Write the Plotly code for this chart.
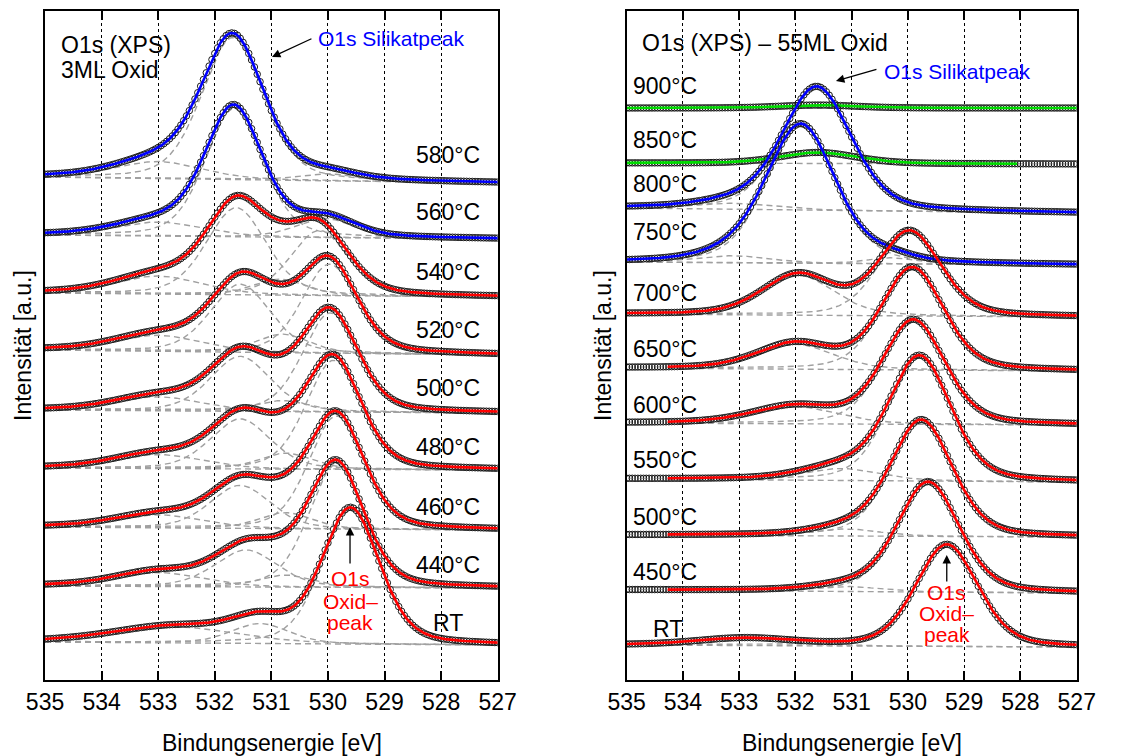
import numpy as np
import plotly.graph_objects as go

FONT = "Liberation Sans, Arial, Helvetica, sans-serif"
ETA = 0.3  # Lorentzian fraction of the pseudo-Voigt line shape

COLORS = {"red": "#ff0000", "blue": "#0000ff", "green": "#00dc00"}

# ---------------- 3ML oxide (left panel) ----------------
temps_3ml = ["580°C", "560°C", "540°C", "520°C", "500°C", "480°C", "460°C", "440°C", "RT"]
fitcol_3ml = ["blue", "blue", "red", "red", "red", "red", "red", "red", "red"]
bg_hi_3ml = [503, 445, 387, 330, 270, 212, 153, 94, 38]   # background at 535 eV
bg_lo_3ml = [497, 441, 383, 325, 267, 210, 150, 92, 35]   # background at 527 eV
pos_3ml = [
    [533.0, 531.68, 530.0],
    [533.0, 531.66, 530.05],
    [533.0, 531.62, 530.85, 530.15],
    [533.0, 531.55, 530.8, 529.97],
    [533.0, 531.55, 530.8, 529.96],
    [533.0, 531.55, 530.75, 529.9],
    [533.0, 531.55, 530.75, 529.85],
    [533.0, 531.45, 530.75, 529.85],
    [532.7, 531.2, 529.6],
]
amp_3ml = [
    [17, 142, 7],
    [14, 128, 19],
    [18, 87, 16, 65],
    [16, 68, 18.5, 89],
    [14, 55, 11, 99],
    [14, 50, 16, 109],
    [13, 43, 16, 113],
    [14, 37, 12, 123],
    [16, 20, 135],
]
fwhm_3ml = [
    [1.8, 1.3, 1.2],
    [1.8, 1.2, 1.2],
    [1.8, 1.25, 1.1, 1.2],
    [1.8, 1.25, 1.1, 1.15],
    [1.8, 1.25, 1.1, 1.15],
    [1.8, 1.25, 1.1, 1.15],
    [1.8, 1.25, 1.1, 1.15],
    [1.8, 1.3, 1.1, 1.15],
    [2.6, 1.2, 1.2],
]
fit_from_3ml = [535.0] * 9
fit_to_3ml = [527.0] * 9

# ---------------- 55ML oxide (right panel) ----------------
temps_55ml = ["900°C", "850°C", "800°C", "750°C", "700°C", "650°C", "600°C",
              "550°C", "500°C", "450°C", "RT"]
fitcol_55ml = ["green", "green", "blue", "blue", "red", "red", "red",
               "red", "red", "red", "red"]
bg_hi_55ml = [572, 517, 472, 418, 366, 312, 257, 201, 145, 90, 35]
bg_lo_55ml = [572, 516, 467, 415, 363, 309, 255, 198, 143, 87, 33]
pos_55ml = [
    [531.6],
    [531.6],
    [533.1, 531.62],
    [533.1, 531.9, 530.3],
    [531.95, 529.97],
    [532.0, 529.92],
    [532.0, 529.9],
    [531.2, 529.79],
    [531.1, 529.76],
    [531.1, 529.64],
    [532.9, 529.31],
]
amp_55ml = [
    [3],
    [11],
    [6, 123],
    [7, 138, 6],
    [40, 84],
    [25, 102],
    [17, 104],
    [12, 124],
    [7, 116],
    [5, 110],
    [7, 102],
]
fwhm_55ml = [
    [1.6],
    [1.6],
    [1.6, 1.45],
    [1.5, 1.45, 1.0],
    [1.5, 1.3],
    [1.6, 1.3],
    [1.8, 1.3],
    [1.6, 1.3],
    [1.4, 1.3],
    [1.4, 1.3],
    [2.0, 1.3],
]
fit_from_55ml = [535.0, 535.0, 535.0, 535.0, 535.0, 534.27, 534.27, 534.27, 534.27, 534.27, 535.0]
fit_to_55ml = [527.0, 528.06, 527.0, 527.0, 527.0, 527.0, 527.0, 527.0, 527.0, 527.0, 527.0]

ticks_ev = [535, 534, 533, 532, 531, 530, 529, 528, 527]
E_HI, E_LO = 535.0, 527.0
STEP = 0.05  # measurement step of the spectra [eV]


def pseudo_voigt(e, c, h, w):
    r = 4.0 * ((e - c) / w) ** 2
    return h * ((1 - ETA) * np.exp(-np.log(2) * r) + ETA / (1 + r))


def background(e, hi, lo):
    return lo + (hi - lo) * (e - E_LO) / (E_HI - E_LO)


fig = go.Figure()


def add_panel(xa, ya, col, bg_hi, bg_lo, pos, amp, fwhm, f_from, f_to):
    e_meas = np.arange(E_HI, E_LO - 1e-9, -STEP)
    for i in range(len(bg_hi)):
        e_fit = np.linspace(f_from[i], f_to[i], 400)
        bg_fit = background(e_fit, bg_hi[i], bg_lo[i])
        dash = dict(color="rgb(160,160,160)", width=1.4, dash="6px,4px")
        fig.add_trace(go.Scatter(x=e_fit, y=bg_fit, mode="lines", line=dash,
                                 xaxis=xa, yaxis=ya, hoverinfo="skip"))
        total_fit = bg_fit.copy()
        for c, h, w in zip(pos[i], amp[i], fwhm[i]):
            comp = pseudo_voigt(e_fit, c, h, w)
            total_fit += comp
            fig.add_trace(go.Scatter(x=e_fit, y=bg_fit + comp, mode="lines", line=dash,
                                     xaxis=xa, yaxis=ya, hoverinfo="skip"))
        meas = background(e_meas, bg_hi[i], bg_lo[i])
        for c, h, w in zip(pos[i], amp[i], fwhm[i]):
            meas = meas + pseudo_voigt(e_meas, c, h, w)
        fig.add_trace(go.Scatter(
            x=e_meas, y=meas, mode="markers", xaxis=xa, yaxis=ya,
            marker=dict(symbol="circle-open", size=6.5, color="#1a1a1a",
                        line=dict(width=1.0, color="#1a1a1a")),
            hoverinfo="skip"))
        fig.add_trace(go.Scatter(x=e_fit, y=total_fit, mode="lines",
                                 line=dict(color=COLORS[col[i]], width=2.6),
                                 xaxis=xa, yaxis=ya, hoverinfo="skip"))


add_panel("x", "y", fitcol_3ml, bg_hi_3ml, bg_lo_3ml, pos_3ml, amp_3ml, fwhm_3ml,
          fit_from_3ml, fit_to_3ml)
add_panel("x2", "y2", fitcol_55ml, bg_hi_55ml, bg_lo_55ml, pos_55ml, amp_55ml, fwhm_55ml,
          fit_from_55ml, fit_to_55ml)

xaxis_style = dict(
    range=[E_HI, E_LO], tickvals=ticks_ev, ticktext=[str(t) for t in ticks_ev],
    ticks="inside", ticklen=9, tickwidth=1.5, tickcolor="black",
    showline=True, linewidth=2, linecolor="black", mirror="ticks",
    showgrid=True, griddash="dot", gridcolor="black", gridwidth=1,
    zeroline=False, tickfont=dict(size=23, color="black", family=FONT),
    fixedrange=True, automargin=False,
)
yaxis_style = dict(
    range=[0, 669], showticklabels=False, ticks="", showline=True, linewidth=2,
    linecolor="black", mirror=True, showgrid=False, zeroline=False, fixedrange=True,
    automargin=False,
)

fig.update_layout(
    template="none",
    width=1123, height=756, margin=dict(l=0, r=0, t=0, b=0, autoexpand=False),
    paper_bgcolor="white", plot_bgcolor="white", showlegend=False,
    font=dict(family=FONT, color="black", size=23),
    xaxis=dict(domain=[0.0401, 0.4432], anchor="y", **xaxis_style),
    yaxis=dict(domain=[0.1005, 0.9854], anchor="x", **yaxis_style),
    xaxis2=dict(domain=[0.5580, 0.9588], anchor="y2", **xaxis_style),
    yaxis2=dict(domain=[0.1005, 0.9854], anchor="x2", **yaxis_style),
)

ann = []


def text(xr, yr, x, y, s, anchor="left", size=23, color="black"):
    ann.append(dict(xref=xr, yref=yr, x=x, y=y, text=s, showarrow=False,
                    xanchor=anchor, yanchor="middle",
                    font=dict(size=size, color=color, family=FONT)))


def arrow(xr, yr, x, y, ax, ay):
    ann.append(dict(xref=xr, yref=yr, x=x, y=y, text="", showarrow=True,
                    ax=ax, ay=ay, axref="pixel", ayref="pixel",
                    arrowhead=2, arrowsize=1.3, arrowwidth=1.3, arrowcolor="black"))


# left panel labels
label_y_3ml = [525, 468, 408, 350, 292, 233, 173, 115, 57]
for t, yv in zip(temps_3ml, label_y_3ml):
    text("x", "y", 527.58 if t == "RT" else 527.28, yv, t, anchor="right")
text("x", "y", 534.75, 635, "O1s (XPS)")
text("x", "y", 534.75, 610, "3ML Oxid")
text("x", "y", 530.21, 642, "O1s Silikatpeak", size=21, color="#0000ff")
arrow("x", "y", 530.99, 623, 41, -19)
for s, yv in zip(["O1s", "Oxid–", "peak"], [102, 79, 58]):
    text("x", "y", 529.61, yv, s, anchor="center", size=21, color="#ff0000")
arrow("x", "y", 529.61, 153, 0, 38)

# right panel labels
label_y_55ml = [594, 540, 496, 448, 387, 331, 275, 220, 163, 108, 51]
for t, yv in zip(temps_55ml, label_y_55ml):
    text("x2", "y2", 534.57 if t == "RT" else 534.92, yv, t, anchor="left")
text("x2", "y2", 534.77, 637, "O1s (XPS) – 55ML Oxid")
text("x2", "y2", 530.47, 609, "O1s Silikatpeak", size=21, color="#0000ff")
arrow("x2", "y2", 531.28, 599, 42, -12)
for s, yv in zip(["O1s", "Oxid–", "peak"], [88, 67, 46]):
    text("x2", "y2", 529.31, yv, s, anchor="center", size=21, color="#ff0000")
arrow("x2", "y2", 529.31, 125, 0, 28)

# axis titles
for xc in [(45 + 498) / 2 / 1123, (627 + 1077) / 2 / 1123]:
    ann.append(dict(xref="paper", yref="paper", x=xc, y=1 - 743 / 756,
                    text="Bindungsenergie [eV]", showarrow=False,
                    xanchor="center", yanchor="middle",
                    font=dict(size=23, color="black", family=FONT)))
for xc in [23 / 1123, 603 / 1123]:
    ann.append(dict(xref="paper", yref="paper", x=xc, y=1 - 346 / 756,
                    text="Intensität [a.u.]", showarrow=False, textangle=-90,
                    xanchor="center", yanchor="middle",
                    font=dict(size=23, color="black", family=FONT)))

fig.update_layout(annotations=ann)
fig.write_html("out.html")
